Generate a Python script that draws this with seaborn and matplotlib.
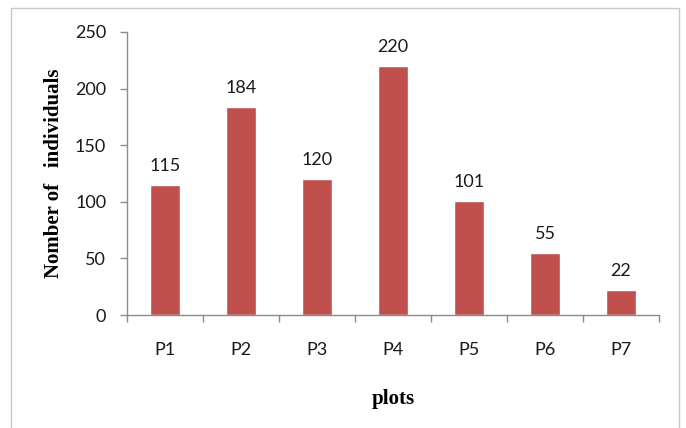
import matplotlib
matplotlib.use("Agg")
import matplotlib.pyplot as plt
from matplotlib.patches import Rectangle
import numpy as np
import pandas as pd
import seaborn as sns

plots = ["P1", "P2", "P3", "P4", "P5", "P6", "P7"]
individuals = [115, 184, 120, 220, 101, 55, 22]
y_ticks = [0, 50, 100, 150, 200, 250]

sns.set_theme(style="white")
plt.rcParams["font.family"] = ["Lato", "DejaVu Sans"]

df = pd.DataFrame({"plot": plots, "count": individuals})

fig = plt.figure(figsize=(6.86, 4.28), dpi=100)
ax = fig.add_axes([127 / 686, 1 - 315 / 428, (659 - 127) / 686, (315 - 32) / 428])

sns.barplot(data=df, x="plot", y="count", color="#C0504D", saturation=1,
            width=0.4, ax=ax)

ax.set_xlim(-0.5, len(plots) - 0.5)
ax.set_ylim(0, 250)
ax.set_yticks(y_ticks)
ax.set_xticks(range(len(plots)))
ax.set_xticks(np.arange(-0.5, len(plots)), minor=True)

for side in ("top", "right"):
    ax.spines[side].set_visible(False)
for side in ("left", "bottom"):
    ax.spines[side].set_color("#8c8c8c")
    ax.spines[side].set_linewidth(1.0)

ax.tick_params(axis="x", which="major", length=0, pad=19.5, labelsize=13,
               labelcolor="#1a1a1a")
ax.tick_params(axis="x", which="minor", length=5, width=1, color="#8c8c8c",
               direction="out", bottom=True)
ax.tick_params(axis="y", which="major", length=5, width=1, color="#8c8c8c",
               direction="out", left=True, pad=10, labelsize=13,
               labelcolor="#1a1a1a")

ax.bar_label(ax.containers[0], labels=[str(v) for v in individuals],
             padding=8, fontsize=13, color="#1a1a1a")

ax.set_xlabel("plots", family=["Liberation Serif"], fontweight="bold",
              fontsize=15, labelpad=22, color="black")
ax.set_ylabel("Nomber of   individuals", family=["Liberation Serif"],
              fontweight="bold", fontsize=15, labelpad=8, color="black")

fig.patches.append(Rectangle((11 / 686, -0.05), (679 - 11) / 686, 1.05 - 8 / 428,
                             transform=fig.transFigure, fill=False,
                             edgecolor="#c8c8c8", linewidth=1.0))

fig.savefig("out.png", dpi=100)
